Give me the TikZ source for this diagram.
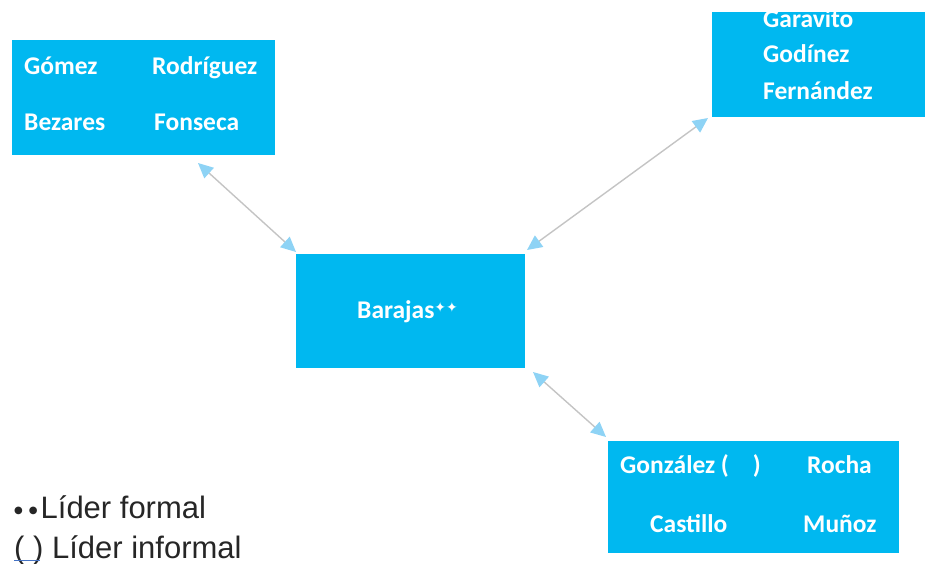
\documentclass[tikz,border=0pt]{standalone}
\usepackage{fontspec}
\setmainfont{Carlito}
\newfontfamily\legendfont{Liberation Sans}
\newfontfamily\symfont{DejaVu Sans}
\usetikzlibrary{arrows.meta}
\definecolor{boxblue}{HTML}{00B8F0}
\definecolor{tipblue}{HTML}{8ED3F5}
\definecolor{linkgray}{HTML}{C4C4C4}
\definecolor{markblue}{HTML}{4472C4}
\tikzset{
  group/.style={fill=boxblue, draw=none},
  member/.style={anchor=base west, inner sep=0pt, text=white, font=\bfseries\fontsize{25.5}{27}\selectfont},
  link/.style={draw=linkgray, line width=1.4pt,
    {Triangle[length=15pt,width=14pt,color=tipblue]}-{Triangle[length=15pt,width=14pt,color=tipblue]}},
  legend/.style={anchor=base west, inner sep=0pt, text=black!85, font=\legendfont\fontsize{31}{33}\selectfont}
}
\begin{document}
\begin{tikzpicture}[x=1pt,y=-1pt]
\useasboundingbox (0,0) rectangle (925,563);

% group boxes
\path[group] (12,40) rectangle (275,155);
\node[inner sep=0pt, minimum width=263pt, minimum height=115pt] (tl) at (143.5,97.5) {};
\path[group] (712,12) rectangle (925,117);
\node[inner sep=0pt, minimum width=213pt, minimum height=105pt] (tr) at (818.5,64.5) {};
\path[group] (296,254) rectangle (525,368);
\node[inner sep=0pt, minimum width=229pt, minimum height=114pt] (c) at (410.5,311) {};
\path[group] (608,441) rectangle (899,553);
\node[inner sep=0pt, minimum width=291pt, minimum height=112pt] (br) at (753.5,497) {};

% names, upper left group
\node[member] (n1) at (24,74) {Gómez};
\node[member] (n2) at (152,74) {Rodríguez};
\node[member] (n3) at (24,130) {Bezares};
\node[member] (n4) at (154,130) {Fonseca};

% names, upper right group (clipped to its box)
\begin{scope}
\clip (712,12) rectangle (925,117);
\node[member] (n5) at (763,27) {Garavito};
\node[member] (n6) at (763,62) {Godínez};
\node[member] (n7) at (763,99) {Fernández};
\end{scope}

% central leader
\node[member] (n8) at (357,318) {Barajas\raisebox{6pt}{\symfont\fontsize{14}{14}\selectfont ✦✦}};

% names, lower right group
\node[member] (n9) at (620,473) {González (\hspace{24pt})};
\node[member] (n10) at (807,473) {Rocha};
\node[member] (n11) at (650,532) {Castillo};
\node[member] (n12) at (803,532) {Muñoz};

% connectors
\coordinate (a1) at (198,163);
\coordinate (a2) at (296,252);
\coordinate (b1) at (708,118);
\coordinate (b2) at (527,250);
\coordinate (c1) at (533,372);
\coordinate (c2) at (606,437);
\draw[link] (a1) -- (a2);
\draw[link] (b1) -- (b2);
\draw[link] (c1) -- (c2);

% legend
\node[legend] (l1) at (14,518) {\raisebox{5pt}{\symfont\fontsize{10}{10}\selectfont ●\hspace{6pt}●}\hspace{3pt}Líder formal};
\node[legend] (l2) at (14,558) {( ) Líder informal};
\draw[markblue, line width=1.2pt] (14,560.5) -- (40,560.5);
\end{tikzpicture}
\end{document}
